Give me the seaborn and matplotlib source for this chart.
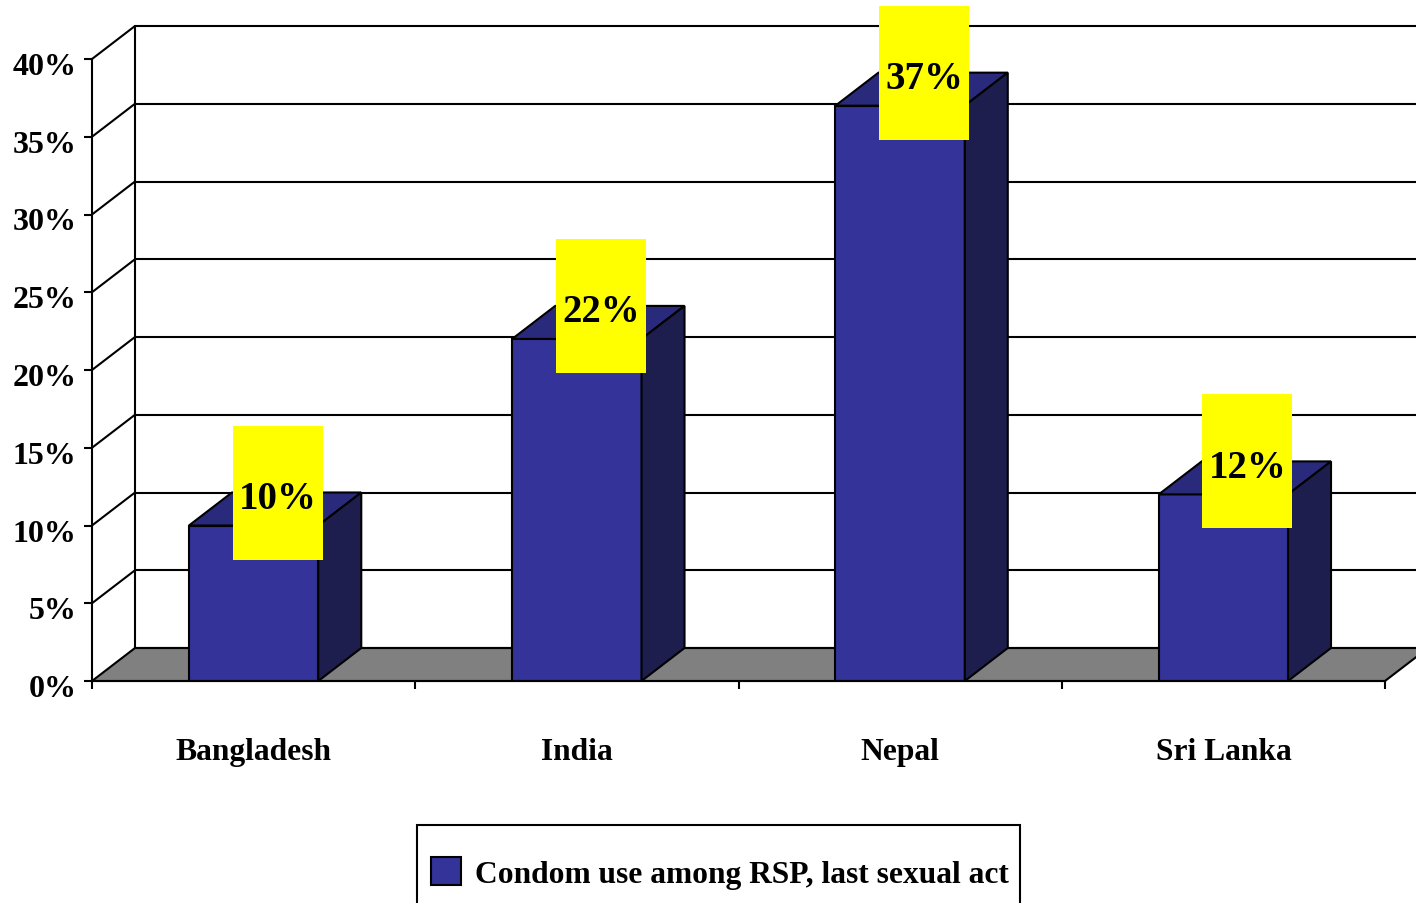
import pandas as pd
import seaborn as sns
import matplotlib.pyplot as plt
import matplotlib.transforms as mtransforms
from matplotlib.patches import Polygon, Rectangle, Patch

# data
countries = ['Bangladesh', 'India', 'Nepal', 'Sri Lanka']
values = [10, 22, 37, 12]
value_labels = ['10%', '22%', '37%', '12%']
y_ticks = [0, 5, 10, 15, 20, 25, 30, 35, 40]
y_tick_labels = [f'{t}%' for t in y_ticks]
series_name = 'Condom use among RSP, last sexual act'

df = pd.DataFrame({'country': countries, 'value': values})

sns.set_style('white')
plt.rcParams['font.family'] = ['Liberation Serif', 'DejaVu Serif']
plt.rcParams['font.weight'] = 'bold'
plt.rcParams['text.color'] = 'black'
plt.rcParams['xtick.labelcolor'] = 'black'
plt.rcParams['ytick.labelcolor'] = 'black'

W, H = 1416, 904
fig = plt.figure(figsize=(W / 100, H / 100), dpi=100)
ax = fig.add_axes([92 / W, (H - 682) / H, (1385 - 92) / W, (682 - 60) / H])

front_c = '#333399'
top_c = '#2a2a7c'
side_c = '#1e1e4e'
lw = 1.5

# depth of the fake 3d box (data units)
px_x = 323.25   # pixels per category
px_y = 15.55    # pixels per percent
dx = 43 / px_x
dy = 33 / px_y
xl, xr = -0.5, 3.5
x_edge = xl + (W - 92) / px_x

# front faces of the bars
sns.barplot(data=df, x='country', y='value', color=front_c, saturation=1,
            width=0.4, edgecolor='k', linewidth=lw, ax=ax, zorder=3)
bars = list(ax.patches)

ax.set_xlim(xl, xr)
ax.set_ylim(0, 40)

# back wall + diagonals
for t in y_ticks[1:]:
    ax.plot([xl + dx, x_edge], [t + dy, t + dy], color='k', lw=lw, clip_on=False, zorder=1)
    ax.plot([xl, xl + dx], [t, t + dy], color='k', lw=lw, clip_on=False, zorder=1)
ax.plot([xl + dx, xl + dx], [dy, 40 + dy], color='k', lw=lw, clip_on=False, zorder=1)

# floor
ax.add_patch(Polygon([(xl, 0), (xr, 0), (xr + dx, dy), (x_edge + 0.2, dy), (xl + dx, dy)],
                     closed=True, facecolor='#808080', edgecolor='k', lw=lw,
                     clip_on=False, zorder=2))
ax.plot([xl + dx, x_edge], [dy, dy], color='k', lw=lw, clip_on=False, zorder=2)

# top and side faces + labels
for b, lab in zip(bars, value_labels):
    x0, w, h = b.get_x(), b.get_width(), b.get_height()
    ax.add_patch(Polygon([(x0, h), (x0 + w, h), (x0 + w + dx, h + dy), (x0 + dx, h + dy)],
                         closed=True, facecolor=top_c, edgecolor='k', lw=lw,
                         clip_on=False, zorder=3))
    ax.add_patch(Polygon([(x0 + w, 0), (x0 + w + dx, dy), (x0 + w + dx, h + dy), (x0 + w, h)],
                         closed=True, facecolor=side_c, edgecolor='k', lw=lw,
                         clip_on=False, zorder=3))
    cx = x0 + w / 2 + 24 / px_x
    cy = h + dy
    bw, bh = 90 / px_x, 134 / px_y
    ax.add_patch(Rectangle((cx - bw / 2, cy - bh / 2), bw, bh, facecolor='#ffff00',
                           edgecolor='none', clip_on=False, zorder=5))
    ax.text(cx, cy - 6 / px_y, lab, ha='center', va='center', fontsize=28,
            fontweight='bold', color='black', zorder=6, clip_on=False)

# axes
for s in ['top', 'right']:
    ax.spines[s].set_visible(False)
for s in ['left', 'bottom']:
    ax.spines[s].set_color('k')
    ax.spines[s].set_linewidth(lw)
    ax.spines[s].set_zorder(4)

ax.set_xlabel('')
ax.set_ylabel('')
ax.set_yticks(y_ticks, y_tick_labels)
ax.set_xticks(range(len(countries)), countries)
ax.set_xticks([xl + i for i in range(len(countries) + 1)], minor=True)
ax.tick_params(axis='y', left=True, length=6, width=lw, color='k', direction='out',
               pad=5, labelsize=23)
ax.tick_params(axis='x', which='major', bottom=True, length=0, pad=40.5, labelsize=22.7)
ax.tick_params(axis='x', which='minor', bottom=True, length=6, width=lw, color='k',
               direction='out')
shift = mtransforms.ScaledTranslation(0, -4 / 100, fig.dpi_scale_trans)
for t in ax.get_yticklabels():
    t.set_transform(t.get_transform() + shift)

# legend
fig.patches.append(Rectangle((417 / W, -0.05), (1020 - 417) / W, 0.05 + (H - 826) / H,
                             transform=fig.transFigure, facecolor='white',
                             edgecolor='k', lw=lw, zorder=0))
handle = Patch(facecolor=front_c, edgecolor='k', lw=lw)
fig.legend([handle], [series_name], loc='center left',
           bbox_to_anchor=(431 / W, (H - 874) / H), frameon=False, borderpad=0,
           borderaxespad=0, handlelength=0.96, handleheight=0.96, handletextpad=0.42,
           prop={'size': 22.7, 'weight': 'bold'})

fig.savefig('out.png', dpi=100)
